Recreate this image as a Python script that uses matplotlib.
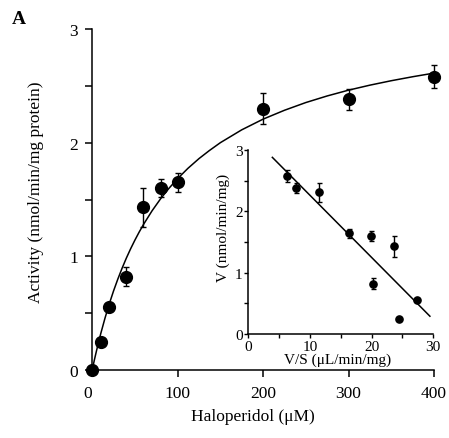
import matplotlib
matplotlib.use("Agg")
import matplotlib.pyplot as plt
from matplotlib.ticker import MultipleLocator, FuncFormatter, FixedLocator
from matplotlib.transforms import ScaledTranslation

plt.rcParams['font.family'] = ['Liberation Serif', 'DejaVu Serif']

# Main panel data: haloperidol concentration vs activity
conc = [0, 10, 20, 40, 60, 80, 100, 200, 300, 400]
activity = [0.0, 0.25, 0.55, 0.82, 1.43, 1.60, 1.65, 2.30, 2.38, 2.58]
act_err = [0.0, 0.02, 0.03, 0.085, 0.17, 0.08, 0.085, 0.14, 0.09, 0.10]

# Fitted saturation curve
fit_x = [0, 2.5, 5, 7.5, 10, 15, 20, 25, 30, 35, 40, 45, 50, 55, 60, 70, 80, 90,
         100, 112, 125, 137, 150, 175, 200, 225, 250, 275, 300, 325, 350, 375, 400]
fit_y = [0.0, 0.087, 0.168, 0.246, 0.320, 0.457, 0.582, 0.696, 0.800, 0.896, 0.985,
         1.067, 1.143, 1.214, 1.280, 1.400, 1.506, 1.600, 1.684, 1.774, 1.860,
         1.930, 2.000, 2.113, 2.207, 2.285, 2.353, 2.411, 2.462, 2.506, 2.545,
         2.580, 2.612]

# Inset (Eadie-Hofstee): V/S vs V
vs = [6.2, 7.8, 11.4, 16.3, 19.9, 23.6, 20.3, 27.4, 24.5]
v = [2.58, 2.38, 2.31, 1.64, 1.60, 1.43, 0.82, 0.555, 0.245]
v_err = [0.10, 0.08, 0.15, 0.08, 0.08, 0.17, 0.09, 0.0, 0.0]
line_x = [3.9, 29.45]
line_y = [2.88, 0.29]

main_xticks = [0, 100, 200, 300, 400]

fig = plt.figure(figsize=(4.49, 4.39), dpi=100)

# ---------- main axes ----------
ax = fig.add_axes([92.2/449, 1-371/439, (434-92.2)/449, (371-30)/439])
ax.plot(fit_x, fit_y, color='black', lw=1.1, zorder=2, solid_joinstyle='round')
ax.errorbar(conc, activity, yerr=act_err, fmt='o', color='black', ms=8.5,
            elinewidth=1.0, capsize=2.2, capthick=1.0, clip_on=False, zorder=3)
ax.set_xlim(0, 400)
ax.set_ylim(0, 3)
for s in ['top', 'right']:
    ax.spines[s].set_visible(False)
for s in ['left', 'bottom']:
    ax.spines[s].set_linewidth(1.1)
ax.xaxis.set_major_locator(FixedLocator(main_xticks))
ax.yaxis.set_major_locator(MultipleLocator(0.5))
ax.yaxis.set_major_formatter(FuncFormatter(lambda val, p: f"{val:.0f}" if abs(val - round(val)) < 1e-6 else ""))
ax.tick_params(axis='both', direction='out', length=5, width=1.1, labelsize=12.5, pad=5)
ax.tick_params(axis='x', pad=6)
ax.set_xlabel('Haloperidol (μM)', fontsize=12.5)
ax.set_ylabel('Activity (nmol/min/mg protein)', fontsize=12.5)
ax.xaxis.set_label_coords(0.47, -0.112)
ax.yaxis.set_label_coords(-0.142, 0.525)

fig.canvas.draw()
lab0 = ax.get_xticklabels()[0]
lab0.set_transform(lab0.get_transform() + ScaledTranslation(-5/100, 0, fig.dpi_scale_trans))

fig.text(19/449, 1-19/439, 'A', fontsize=14, fontweight='bold', ha='center', va='center')

# ---------- inset axes ----------
ins = fig.add_axes([248.3/449, 1-335/439, (433.3-248.3)/449, (335-151)/439])
ins.patch.set_alpha(0)
ins.plot(line_x, line_y, color='black', lw=1.1, zorder=2)
ins.errorbar(vs, v, yerr=v_err, fmt='o', color='black', ms=5.2,
             elinewidth=1.0, capsize=1.8, capthick=1.0, clip_on=False, zorder=3)
ins.set_xlim(0, 30)
ins.set_ylim(0, 3)
for s in ['top', 'right']:
    ins.spines[s].set_visible(False)
for s in ['left', 'bottom']:
    ins.spines[s].set_linewidth(1.1)
ins.xaxis.set_major_locator(MultipleLocator(5))
ins.yaxis.set_major_locator(MultipleLocator(0.5))
ins.xaxis.set_major_formatter(FuncFormatter(lambda val, p: f"{val:.0f}" if abs(val % 10) < 1e-6 else ""))
ins.yaxis.set_major_formatter(FuncFormatter(lambda val, p: f"{val:.0f}" if abs(val - round(val)) < 1e-6 else ""))
ins.tick_params(axis='both', direction='out', length=3, width=1.0, labelsize=11, pad=1)
ins.set_xlabel('V/S (μL/min/mg)', fontsize=11)
ins.set_ylabel('V (nmol/min/mg)', fontsize=11)
ins.xaxis.set_label_coords(0.485, -0.100)
ins.yaxis.set_label_coords(-0.10, 0.58)

fig.savefig('out.png', dpi=100)
